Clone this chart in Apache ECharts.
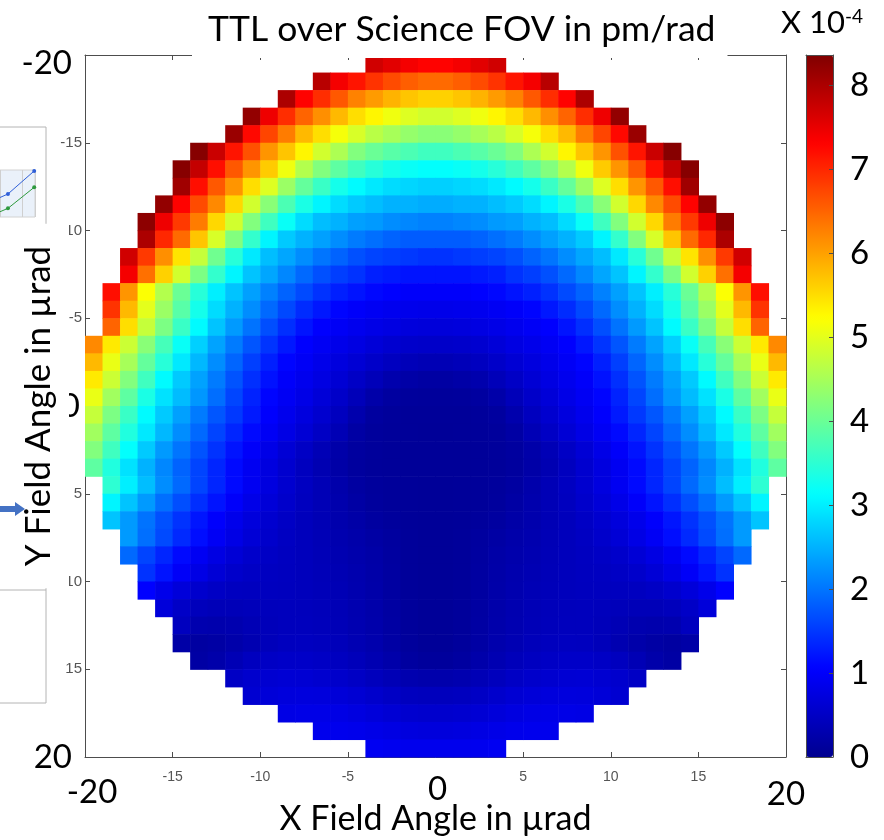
<!DOCTYPE html>
<html>
<head>
<meta charset="utf-8">
<title>TTL over Science FOV</title>
<script src="https://cdn.jsdelivr.net/npm/echarts@6/dist/echarts.min.js"></script>
<style>
html, body { margin: 0; padding: 0; background: #fff; }
#chart { width: 884px; height: 840px; }
</style>
</head>
<body>
<div id="chart"></div>
<script>
// cell centres of the field grid (urad)
var xCenters = [-19.5, -18.5, -17.5, -16.5, -15.5, -14.5, -13.5, -12.5, -11.5, -10.5,
    -9.5, -8.5, -7.5, -6.5, -5.5, -4.5, -3.5, -2.5, -1.5, -0.5,
    0.5, 1.5, 2.5, 3.5, 4.5, 5.5, 6.5, 7.5, 8.5, 9.5,
    10.5, 11.5, 12.5, 13.5, 14.5, 15.5, 16.5, 17.5, 18.5, 19.5];
var yCenters = [-19.5, -18.5, -17.5, -16.5, -15.5, -14.5, -13.5, -12.5, -11.5, -10.5,
    -9.5, -8.5, -7.5, -6.5, -5.5, -4.5, -3.5, -2.5, -1.5, -0.5,
    0.5, 1.5, 2.5, 3.5, 4.5, 5.5, 6.5, 7.5, 8.5, 9.5,
    10.5, 11.5, 12.5, 13.5, 14.5, 15.5, 16.5, 17.5, 18.5, 19.5];

// TTL in units of 1e-4 pm/rad, one row per y centre, only cells inside the FOV circle
var r00 = [7.7, 7.55, 7.4, 7.3, 7.3, 7.4, 7.55, 7.7];
var r01 = [7.9, 7.4, 7.15, 6.9, 6.7, 6.55, 6.45, 6.45, 6.55, 6.7, 6.9, 7.15, 7.4, 7.9];
var r02 = [8.0, 7.3, 6.95, 6.6, 6.25, 6.05, 5.85, 5.7, 5.6, 5.6, 5.7, 5.85, 6.05, 6.25, 6.6, 6.95, 7.3, 8.0];
var r03 = [8.2, 7.45, 6.95, 6.5, 6.15, 5.8, 5.5, 5.3, 5.1, 4.95, 4.85, 4.85, 4.95, 5.1, 5.3, 5.5, 5.8, 6.15, 6.5, 6.95, 7.45, 8.2];
var r04 = [8.15, 7.25, 6.75, 6.3, 5.8, 5.5, 5.15, 4.9, 4.65, 4.5, 4.35, 4.25, 4.25, 4.35, 4.5, 4.65, 4.9, 5.15, 5.5, 5.8, 6.3, 6.75, 7.25, 8.15];
var r05 = [8.3, 7.75, 7.15, 6.65, 6.1, 5.7, 5.3, 4.85, 4.55, 4.2, 4.0, 3.85, 3.75, 3.65, 3.65, 3.75, 3.85, 4.0, 4.2, 4.55, 4.85, 5.3, 5.7, 6.1, 6.65, 7.15, 7.75, 8.3];
var r06 = [8.3, 7.8, 7.2, 6.6, 6.1, 5.65, 5.1, 4.6, 4.2, 3.9, 3.65, 3.45, 3.3, 3.2, 3.15, 3.15, 3.2, 3.3, 3.45, 3.65, 3.9, 4.2, 4.6, 5.1, 5.65, 6.1, 6.6, 7.2, 7.8, 8.3];
var r07 = [8.1, 7.2, 6.6, 6.1, 5.5, 4.95, 4.4, 3.95, 3.6, 3.3, 3.1, 2.95, 2.85, 2.8, 2.75, 2.75, 2.8, 2.85, 2.95, 3.1, 3.3, 3.6, 3.95, 4.4, 4.95, 5.5, 6.1, 6.6, 7.2, 8.1];
var r08 = [8.2, 7.3, 6.7, 6.2, 5.55, 4.85, 4.25, 3.75, 3.35, 3.05, 2.85, 2.7, 2.6, 2.5, 2.5, 2.45, 2.45, 2.5, 2.5, 2.6, 2.7, 2.85, 3.05, 3.35, 3.75, 4.25, 4.85, 5.55, 6.2, 6.7, 7.3, 8.2];
var r09 = [8.25, 7.45, 6.85, 6.3, 5.55, 4.85, 4.2, 3.65, 3.2, 2.85, 2.6, 2.5, 2.35, 2.3, 2.2, 2.15, 2.1, 2.1, 2.15, 2.2, 2.3, 2.35, 2.5, 2.6, 2.85, 3.2, 3.65, 4.2, 4.85, 5.55, 6.3, 6.85, 7.45, 8.25];
var r10 = [8.0, 7.0, 6.45, 5.7, 4.9, 4.2, 3.55, 3.05, 2.7, 2.5, 2.35, 2.2, 2.05, 1.95, 1.85, 1.8, 1.8, 1.8, 1.8, 1.85, 1.95, 2.05, 2.2, 2.35, 2.5, 2.7, 3.05, 3.55, 4.2, 4.9, 5.7, 6.45, 7.0, 8.0];
var r11 = [7.7, 6.85, 6.15, 5.45, 4.75, 4.05, 3.45, 2.95, 2.6, 2.4, 2.2, 2.0, 1.85, 1.7, 1.6, 1.55, 1.5, 1.45, 1.45, 1.5, 1.55, 1.6, 1.7, 1.85, 2.0, 2.2, 2.4, 2.6, 2.95, 3.45, 4.05, 4.75, 5.45, 6.15, 6.85, 7.7];
var r12 = [7.4, 6.4, 5.6, 4.85, 4.15, 3.55, 3.05, 2.65, 2.4, 2.15, 1.9, 1.7, 1.55, 1.45, 1.3, 1.25, 1.2, 1.2, 1.2, 1.2, 1.25, 1.3, 1.45, 1.55, 1.7, 1.9, 2.15, 2.4, 2.65, 3.05, 3.55, 4.15, 4.85, 5.6, 6.4, 7.4];
var r13 = [7.2, 6.1, 5.2, 4.6, 4.0, 3.45, 3.0, 2.65, 2.35, 2.1, 1.85, 1.65, 1.45, 1.3, 1.2, 1.1, 1.05, 1.0, 1.0, 1.0, 1.0, 1.05, 1.1, 1.2, 1.3, 1.45, 1.65, 1.85, 2.1, 2.35, 2.65, 3.0, 3.45, 4.0, 4.6, 5.2, 6.1, 7.2];
var r14 = [6.9, 5.8, 5.0, 4.4, 3.85, 3.3, 2.85, 2.5, 2.2, 1.9, 1.63, 1.4, 1.23, 1.08, 1.0, 0.94, 0.9, 0.87, 0.85, 0.85, 0.87, 0.9, 0.94, 1.0, 1.08, 1.23, 1.4, 1.63, 1.9, 2.2, 2.5, 2.85, 3.3, 3.85, 4.4, 5.0, 5.8, 6.9];
var r15 = [6.5, 5.5, 4.75, 4.15, 3.6, 3.1, 2.65, 2.3, 1.98, 1.68, 1.42, 1.2, 1.04, 0.96, 0.89, 0.82, 0.77, 0.72, 0.7, 0.7, 0.72, 0.77, 0.82, 0.89, 0.96, 1.04, 1.2, 1.42, 1.68, 1.98, 2.3, 2.65, 3.1, 3.6, 4.15, 4.75, 5.5, 6.5];
var r16 = [6.2, 5.4, 4.8, 4.25, 3.7, 3.2, 2.75, 2.38, 2.05, 1.74, 1.47, 1.23, 1.04, 0.94, 0.85, 0.77, 0.68, 0.61, 0.56, 0.54, 0.54, 0.56, 0.61, 0.68, 0.77, 0.85, 0.94, 1.04, 1.23, 1.47, 1.74, 2.05, 2.38, 2.75, 3.2, 3.7, 4.25, 4.8, 5.4, 6.2];
var r17 = [5.8, 5.05, 4.5, 3.95, 3.45, 2.95, 2.55, 2.2, 1.87, 1.56, 1.3, 1.08, 0.96, 0.85, 0.74, 0.64, 0.54, 0.46, 0.39, 0.35, 0.35, 0.39, 0.46, 0.54, 0.64, 0.74, 0.85, 0.96, 1.08, 1.3, 1.56, 1.87, 2.2, 2.55, 2.95, 3.45, 3.95, 4.5, 5.05, 5.8];
var r18 = [5.4, 4.8, 4.2, 3.65, 3.1, 2.7, 2.37, 2.05, 1.72, 1.43, 1.18, 1.0, 0.89, 0.77, 0.64, 0.51, 0.39, 0.28, 0.22, 0.19, 0.19, 0.22, 0.28, 0.39, 0.51, 0.64, 0.77, 0.89, 1.0, 1.18, 1.43, 1.72, 2.05, 2.37, 2.7, 3.1, 3.65, 4.2, 4.8, 5.4];
var r19 = [5.05, 4.45, 3.9, 3.35, 2.9, 2.58, 2.28, 1.94, 1.61, 1.32, 1.08, 0.94, 0.82, 0.68, 0.54, 0.39, 0.24, 0.16, 0.12, 0.11, 0.11, 0.12, 0.16, 0.24, 0.39, 0.54, 0.68, 0.82, 0.94, 1.08, 1.32, 1.61, 1.94, 2.28, 2.58, 2.9, 3.35, 3.9, 4.45, 5.05];
var r20 = [4.75, 4.15, 3.6, 3.1, 2.7, 2.35, 2.05, 1.75, 1.5, 1.25, 1.03, 0.88, 0.74, 0.6, 0.45, 0.28, 0.15, 0.11, 0.09, 0.09, 0.09, 0.09, 0.11, 0.15, 0.28, 0.45, 0.6, 0.74, 0.88, 1.03, 1.25, 1.5, 1.75, 2.05, 2.35, 2.7, 3.1, 3.6, 4.15, 4.75];
var r21 = [4.45, 3.9, 3.4, 2.95, 2.55, 2.2, 1.9, 1.6, 1.35, 1.12, 0.95, 0.8, 0.65, 0.5, 0.35, 0.2, 0.12, 0.1, 0.09, 0.08, 0.08, 0.09, 0.1, 0.12, 0.2, 0.35, 0.5, 0.65, 0.8, 0.95, 1.12, 1.35, 1.6, 1.9, 2.2, 2.55, 2.95, 3.4, 3.9, 4.45];
var r22 = [4.2, 3.65, 3.15, 2.7, 2.3, 2.0, 1.72, 1.45, 1.2, 1.0, 0.82, 0.65, 0.5, 0.36, 0.24, 0.15, 0.11, 0.09, 0.08, 0.08, 0.08, 0.08, 0.09, 0.11, 0.15, 0.24, 0.36, 0.5, 0.65, 0.82, 1.0, 1.2, 1.45, 1.72, 2.0, 2.3, 2.7, 3.15, 3.65, 4.2];
var r23 = [3.9, 3.4, 2.9, 2.5, 2.15, 1.85, 1.6, 1.35, 1.12, 0.92, 0.75, 0.6, 0.45, 0.33, 0.22, 0.14, 0.1, 0.09, 0.08, 0.08, 0.08, 0.08, 0.09, 0.1, 0.14, 0.22, 0.33, 0.45, 0.6, 0.75, 0.92, 1.12, 1.35, 1.6, 1.85, 2.15, 2.5, 2.9, 3.4, 3.9];
var r24 = [3.5, 3.0, 2.6, 2.2, 1.9, 1.6, 1.35, 1.12, 0.92, 0.75, 0.6, 0.47, 0.36, 0.26, 0.17, 0.12, 0.1, 0.09, 0.08, 0.08, 0.09, 0.1, 0.12, 0.17, 0.26, 0.36, 0.47, 0.6, 0.75, 0.92, 1.12, 1.35, 1.6, 1.9, 2.2, 2.6, 3.0, 3.5];
var r25 = [3.05, 2.65, 2.3, 1.95, 1.68, 1.42, 1.2, 1.0, 0.83, 0.68, 0.56, 0.45, 0.36, 0.28, 0.2, 0.13, 0.1, 0.09, 0.08, 0.08, 0.09, 0.1, 0.13, 0.2, 0.28, 0.36, 0.45, 0.56, 0.68, 0.83, 1.0, 1.2, 1.42, 1.68, 1.95, 2.3, 2.65, 3.05];
var r26 = [2.65, 2.3, 1.98, 1.7, 1.45, 1.22, 1.02, 0.86, 0.72, 0.6, 0.5, 0.42, 0.35, 0.28, 0.22, 0.16, 0.12, 0.09, 0.08, 0.08, 0.09, 0.12, 0.16, 0.22, 0.28, 0.35, 0.42, 0.5, 0.6, 0.72, 0.86, 1.02, 1.22, 1.45, 1.7, 1.98, 2.3, 2.65];
var r27 = [2.3, 1.95, 1.65, 1.38, 1.15, 0.95, 0.8, 0.66, 0.56, 0.48, 0.42, 0.36, 0.3, 0.25, 0.2, 0.15, 0.1, 0.08, 0.08, 0.1, 0.15, 0.2, 0.25, 0.3, 0.36, 0.42, 0.48, 0.56, 0.66, 0.8, 0.95, 1.15, 1.38, 1.65, 1.95, 2.3];
var r28 = [1.9, 1.6, 1.35, 1.12, 0.93, 0.78, 0.66, 0.56, 0.5, 0.46, 0.42, 0.37, 0.32, 0.27, 0.22, 0.16, 0.1, 0.08, 0.08, 0.1, 0.16, 0.22, 0.27, 0.32, 0.37, 0.42, 0.46, 0.5, 0.56, 0.66, 0.78, 0.93, 1.12, 1.35, 1.6, 1.9];
var r29 = [1.45, 1.2, 0.98, 0.8, 0.66, 0.56, 0.5, 0.47, 0.45, 0.42, 0.38, 0.34, 0.29, 0.23, 0.17, 0.1, 0.08, 0.08, 0.1, 0.17, 0.23, 0.29, 0.34, 0.38, 0.42, 0.45, 0.47, 0.5, 0.56, 0.66, 0.8, 0.98, 1.2, 1.45];
var r30 = [1.05, 0.85, 0.7, 0.58, 0.5, 0.46, 0.45, 0.45, 0.44, 0.42, 0.39, 0.35, 0.3, 0.24, 0.17, 0.1, 0.08, 0.08, 0.1, 0.17, 0.24, 0.3, 0.35, 0.39, 0.42, 0.44, 0.45, 0.45, 0.46, 0.5, 0.58, 0.7, 0.85, 1.05];
var r31 = [0.7, 0.52, 0.42, 0.38, 0.38, 0.4, 0.42, 0.43, 0.42, 0.4, 0.36, 0.31, 0.25, 0.18, 0.11, 0.08, 0.08, 0.11, 0.18, 0.25, 0.31, 0.36, 0.4, 0.42, 0.43, 0.42, 0.4, 0.38, 0.38, 0.42, 0.52, 0.7];
var r32 = [0.45, 0.3, 0.28, 0.3, 0.35, 0.4, 0.43, 0.43, 0.41, 0.37, 0.32, 0.26, 0.19, 0.11, 0.08, 0.08, 0.11, 0.19, 0.26, 0.32, 0.37, 0.41, 0.43, 0.43, 0.4, 0.35, 0.3, 0.28, 0.3, 0.45];
var r33 = [0.22, 0.17, 0.2, 0.25, 0.32, 0.4, 0.45, 0.46, 0.44, 0.4, 0.34, 0.28, 0.2, 0.12, 0.08, 0.08, 0.12, 0.2, 0.28, 0.34, 0.4, 0.44, 0.46, 0.45, 0.4, 0.32, 0.25, 0.2, 0.17, 0.22];
var r34 = [0.2, 0.25, 0.35, 0.45, 0.5, 0.53, 0.53, 0.5, 0.46, 0.4, 0.33, 0.25, 0.16, 0.12, 0.12, 0.16, 0.25, 0.33, 0.4, 0.46, 0.5, 0.53, 0.53, 0.5, 0.45, 0.35, 0.25, 0.2];
var r35 = [0.5, 0.58, 0.62, 0.64, 0.63, 0.6, 0.56, 0.5, 0.43, 0.36, 0.3, 0.27, 0.27, 0.3, 0.36, 0.43, 0.5, 0.56, 0.6, 0.63, 0.64, 0.62, 0.58, 0.5];
var r36 = [0.62, 0.68, 0.72, 0.73, 0.72, 0.68, 0.63, 0.57, 0.5, 0.45, 0.43, 0.43, 0.45, 0.5, 0.57, 0.63, 0.68, 0.72, 0.73, 0.72, 0.68, 0.62];
var r37 = [0.8, 0.82, 0.82, 0.8, 0.76, 0.7, 0.64, 0.6, 0.58, 0.58, 0.6, 0.64, 0.7, 0.76, 0.8, 0.82, 0.82, 0.8];
var r38 = [0.88, 0.88, 0.86, 0.82, 0.78, 0.74, 0.72, 0.72, 0.74, 0.78, 0.82, 0.86, 0.88, 0.88];
var r39 = [0.92, 0.9, 0.88, 0.88, 0.88, 0.88, 0.9, 0.92];

var ttlRows = [r00, r01, r02, r03, r04, r05, r06, r07, r08, r09,
    r10, r11, r12, r13, r14, r15, r16, r17, r18, r19,
    r20, r21, r22, r23, r24, r25, r26, r27, r28, r29,
    r30, r31, r32, r33, r34, r35, r36, r37, r38, r39];

var ttlMax = 8.36;
var jetColors = ['#00008F', '#0000FF', '#0080FF', '#00FFFF', '#80FF80',
    '#FFFF00', '#FF8000', '#FF0000', '#800000'];

// the little pasted chart on the left edge
var miniBlue = [[-1, 1.7], [1, 2.45], [4.3, 4.9]];
var miniGreen = [[-1, 0.2], [1, 0.92], [4.3, 3.16]];

var cells = [];
ttlRows.forEach(function (row, j) {
    var first = (xCenters.length - row.length) / 2;
    row.forEach(function (v, i) {
        cells.push([xCenters[first + i], yCenters[j], v]);
    });
});

function renderCell(params, api) {
    var x = api.value(0);
    var y = api.value(1);
    var a = api.coord([x - 0.5, y - 0.5]);
    var b = api.coord([x + 0.5, y + 0.5]);
    return {
        type: 'rect',
        shape: {
            x: Math.min(a[0], b[0]),
            y: Math.min(a[1], b[1]),
            width: Math.abs(b[0] - a[0]) + 0.6,
            height: Math.abs(b[1] - a[1]) + 0.6
        },
        style: { fill: api.visual('color') }
    };
}

var axisGray = '#4d4d4d';
var bigFont = 'Lato';
var smallFont = 'Liberation Sans';

function xLabel(v) {
    if (v === -20) return '{bigL|-20}';
    if (v === 0) return '{big0|0}';
    if (v === 20) return '{bigR|20}';
    return '{small|' + v + '}';
}

function yLabel(v) {
    if (v === -20) return '{bigT|-20}';
    if (v === 0) return '{big0|0}';
    if (v === 20) return '{bigB|20}';
    return '{small|' + v + '}';
}

var chart = echarts.init(document.getElementById('chart'));

var option = {
    animation: false,
    backgroundColor: '#fff',
    title: [{
        text: 'TTL over Science FOV in pm/rad',
        left: 192,
        top: 0,
        padding: [12, 12, 10, 16],
        backgroundColor: '#fff',
        textStyle: { fontFamily: bigFont, fontSize: 35.5, fontWeight: 'normal', color: '#000' }
    }, {
        text: '{a|X 10}{b|-4}',
        left: 781,
        top: 7,
        padding: 0,
        textStyle: {
            fontWeight: 'normal',
            rich: {
                a: { fontFamily: bigFont, fontSize: 31, fontWeight: 'normal', color: '#000' },
                b: { fontFamily: bigFont, fontSize: 19, fontWeight: 'normal', color: '#000', verticalAlign: 'top' }
            }
        }
    }],
    grid: [
        { left: 85, top: 55, width: 701, height: 702, outerBoundsMode: 'none', containLabel: false },
        { left: 806, top: 55, width: 27, height: 702, outerBoundsMode: 'none', containLabel: false },
        { left: 0, top: 170, width: 35, height: 47, outerBoundsMode: 'none', containLabel: false,
          show: true, backgroundColor: '#EAF1FA', borderColor: '#d2d2d2', borderWidth: 1 }
    ],
    visualMap: {
        type: 'continuous',
        min: 0,
        max: ttlMax,
        dimension: 2,
        seriesIndex: 0,
        orient: 'vertical',
        left: 806,
        top: 55,
        itemWidth: 27,
        itemHeight: 702,
        padding: 0,
        calculable: false,
        hoverLink: false,
        inRange: { color: jetColors }
    },
    xAxis: [{
        gridIndex: 0, type: 'value', min: -20, max: 20, interval: 5, position: 'bottom',
        axisLine: { onZero: false, lineStyle: { color: axisGray } },
        axisTick: { inside: true, length: 5, lineStyle: { color: axisGray } },
        splitLine: { show: false },
        axisLabel: {
            margin: 13, formatter: xLabel,
            rich: {
                small: { fontFamily: smallFont, fontSize: 14, color: '#555' },
                bigL: { fontFamily: bigFont, fontSize: 33, color: '#000', padding: [6, 0, 0, 14] },
                big0: { fontFamily: bigFont, fontSize: 33, color: '#000', padding: [3, 0, 0, 4] },
                bigR: { fontFamily: bigFont, fontSize: 33, color: '#000', padding: [8, 0, 0, 0] }
            }
        },
        name: 'X Field Angle in µrad',
        nameLocation: 'middle',
        nameGap: 45,
        nameMoveOverlap: false,
        nameTextStyle: { fontFamily: bigFont, fontSize: 34, color: '#000' }
    }, {
        gridIndex: 0, type: 'value', min: -20, max: 20, interval: 5, position: 'top',
        axisLine: { onZero: false, lineStyle: { color: axisGray } },
        axisTick: { inside: true, length: 5, lineStyle: { color: axisGray } },
        axisLabel: { show: false },
        splitLine: { show: false }
    }, {
        gridIndex: 1, type: 'value', min: 0, max: 1, position: 'bottom', z: 6,
        axisLine: { onZero: false, lineStyle: { color: axisGray } },
        axisTick: { show: false }, axisLabel: { show: false }, splitLine: { show: false }
    }, {
        gridIndex: 1, type: 'value', min: 0, max: 1, position: 'top', z: 6,
        axisLine: { onZero: false, lineStyle: { color: axisGray } },
        axisTick: { show: false }, axisLabel: { show: false }, splitLine: { show: false }
    }, {
        gridIndex: 2, type: 'value', min: 0, max: 4.4, interval: 2.75,
        axisLine: { show: false }, axisTick: { show: false }, axisLabel: { show: false },
        splitLine: { show: true, lineStyle: { color: '#cfcfcf' } }
    }],
    yAxis: [{
        gridIndex: 0, type: 'value', min: -20, max: 20, interval: 5, inverse: true, position: 'left',
        axisLine: { onZero: false, lineStyle: { color: axisGray } },
        axisTick: { inside: true, length: 5, lineStyle: { color: axisGray } },
        splitLine: { show: false },
        axisLabel: {
            margin: 3, formatter: yLabel,
            rich: {
                small: { fontFamily: smallFont, fontSize: 15, color: '#555' },
                bigT: { fontFamily: bigFont, fontSize: 33, color: '#000', padding: [16, 10, 0, 0] },
                big0: { fontFamily: bigFont, fontSize: 33, color: '#000', padding: [0, 2, 0, 0] },
                bigB: { fontFamily: bigFont, fontSize: 33, color: '#000', padding: [0, 10, 0, 0] }
            }
        }
    }, {
        gridIndex: 0, type: 'value', min: -20, max: 20, interval: 5, inverse: true, position: 'right',
        axisLine: { onZero: false, lineStyle: { color: axisGray } },
        axisTick: { inside: true, length: 5, lineStyle: { color: axisGray } },
        axisLabel: { show: false },
        splitLine: { show: false }
    }, {
        gridIndex: 0, type: 'value', min: -20, max: 20, inverse: true, position: 'left', z: 5,
        axisLine: { show: false, onZero: false }, axisTick: { show: false }, axisLabel: { show: false }, splitLine: { show: false },
        name: 'Y Field Angle in µrad',
        nameLocation: 'middle',
        nameRotate: 90,
        nameGap: 16,
        nameMoveOverlap: false,
        nameTextStyle: {
            fontFamily: bigFont, fontSize: 35, color: '#000',
            backgroundColor: '#fff', padding: [1, 22, 13, 22]
        }
    }, {
        gridIndex: 1, type: 'value', min: 0, max: ttlMax, position: 'left', z: 6,
        axisLine: { onZero: false, lineStyle: { color: axisGray } },
        axisTick: { show: false }, axisLabel: { show: false }, splitLine: { show: false }
    }, {
        gridIndex: 1, type: 'value', min: 0, max: ttlMax, interval: 1, position: 'right', z: 6,
        axisLine: { onZero: false, lineStyle: { color: axisGray } },
        axisTick: { inside: true, length: 4, lineStyle: { color: axisGray } },
        splitLine: { show: false },
        axisLabel: {
            margin: 17, fontFamily: bigFont, fontSize: 33, color: '#000',
            showMaxLabel: false,
            formatter: function (v) { return v % 1 === 0 ? String(v) : ''; }
        }
    }, {
        gridIndex: 2, type: 'value', min: 0, max: 5,
        axisLine: { show: false }, axisTick: { show: false }, axisLabel: { show: false },
        splitLine: { show: false }
    }],
    series: [{
        type: 'custom',
        xAxisIndex: 0,
        yAxisIndex: 0,
        renderItem: renderCell,
        dimensions: ['x', 'y', 'ttl'],
        encode: { x: 0, y: 1 },
        data: cells,
        silent: true
    }, {
        type: 'line', xAxisIndex: 4, yAxisIndex: 5, data: miniBlue, color: '#2F5FD8',
        symbol: 'circle', symbolSize: 4, lineStyle: { width: 1 }, clip: true, silent: true
    }, {
        type: 'line', xAxisIndex: 4, yAxisIndex: 5, data: miniGreen, color: '#2E9A3E',
        symbol: 'circle', symbolSize: 4, lineStyle: { width: 1 }, clip: true, silent: true
    }],
    graphic: [{
        type: 'rect', z: -1, silent: true,
        shape: { x: -1, y: 127, width: 47, height: 576 },
        style: { fill: '#fff', stroke: '#b4b4b4', lineWidth: 1 }
    }, {
        type: 'line', z: -1, silent: true,
        shape: { x1: 0, y1: 590, x2: 46, y2: 590 },
        style: { stroke: '#b4b4b4', lineWidth: 1 }
    }, {
        type: 'polygon', z: 20, silent: true,
        shape: { points: [[0, 506], [15, 506], [15, 502], [25, 509], [15, 516], [15, 512], [0, 512]] },
        style: { fill: '#4472C4' }
    }]
};

chart.setOption(option);
</script>
</body>
</html>
